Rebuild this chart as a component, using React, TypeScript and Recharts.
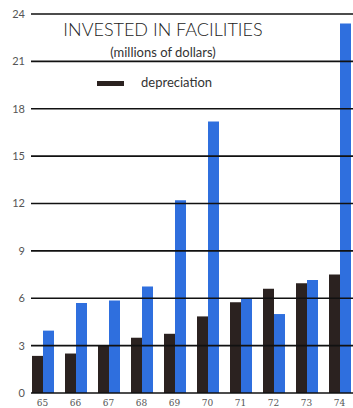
import { BarChart, Bar, XAxis, YAxis, ReferenceLine } from "recharts";

const years = ["65", "66", "67", "68", "69", "70", "71", "72", "73", "74"];
const depreciation = [2.35, 2.5, 3.0, 3.5, 3.75, 4.85, 5.75, 6.6, 6.95, 7.5];
const invested = [3.95, 5.7, 5.85, 6.75, 12.2, 17.2, 6.0, 5.0, 7.15, 23.4];
const yTicks = [0, 3, 6, 9, 12, 15, 18, 21, 24];

const data = years.map((year, i) => ({
  year,
  depreciation: depreciation[i],
  invested: invested[i],
}));

const FONT = "Lato, 'Open Sans', sans-serif";

const App = () => {
  return (
    <div style={{ position: "absolute", left: 0, top: 0, width: 353, height: 408, background: "#fff" }}>
      <BarChart
        width={353}
        height={408}
        data={data}
        margin={{ top: 14, right: 0, bottom: 0, left: 0 }}
        barGap={0}
        barSize={11}
      >
        <XAxis
          dataKey="year"
          axisLine={false}
          tickLine={false}
          tickSize={0}
          tickMargin={7}
          height={15}
          padding={{ left: -5, right: -3 }}
          tick={{ fill: "#555", fontSize: 9, fontFamily: "'DejaVu Serif', serif" }}
        />
        <YAxis
          domain={[0, 24]}
          ticks={yTicks}
          axisLine={false}
          tickLine={false}
          tickSize={0}
          tickMargin={6}
          width={31}
          tick={{ fill: "#555", fontSize: 11, fontFamily: FONT }}
        />
        <Bar dataKey="depreciation" fill="#2b2220" isAnimationActive={false} />
        <Bar dataKey="invested" fill="#2f6fde" isAnimationActive={false} />
        {yTicks.map((t) => (
          <ReferenceLine key={t} y={t} stroke="#111" strokeWidth={1.6} />
        ))}
      </BarChart>
      <div
        style={{
          position: "absolute",
          left: 43,
          width: 240,
          top: 19,
          textAlign: "center",
          fontFamily: FONT,
          fontWeight: 300,
          fontSize: 18,
          color: "#222",
          lineHeight: "20px",
          whiteSpace: "nowrap",
        }}
      >
        INVESTED IN FACILITIES
      </div>
      <div
        style={{
          position: "absolute",
          left: 63,
          width: 200,
          top: 45,
          textAlign: "center",
          fontFamily: FONT,
          fontSize: 13,
          color: "#333",
          lineHeight: "15px",
          whiteSpace: "nowrap",
        }}
      >
        (millions of dollars)
      </div>
      <div style={{ position: "absolute", left: 97, top: 81, width: 27, height: 5, background: "#2b2220" }} />
      <div
        style={{
          position: "absolute",
          left: 141,
          top: 75,
          fontFamily: FONT,
          fontSize: 13,
          color: "#333",
          lineHeight: "15px",
        }}
      >
        depreciation
      </div>
    </div>
  );
};

export default App;
